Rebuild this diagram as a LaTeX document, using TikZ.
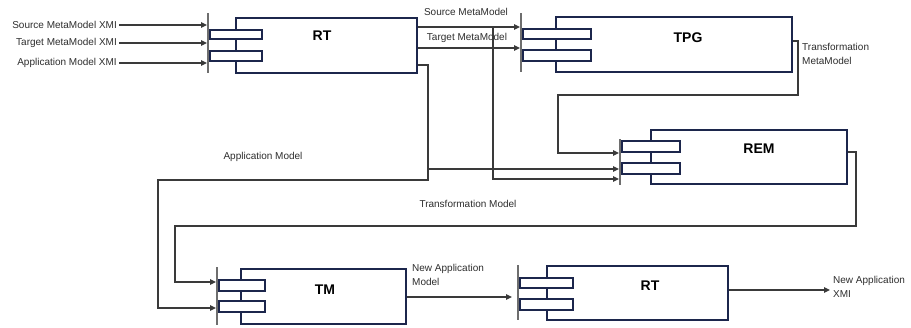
\documentclass[tikz,border=0pt]{standalone}
\usepackage{fontspec}
\setmainfont{Liberation Sans}
\usetikzlibrary{arrows.meta}
\definecolor{wire}{HTML}{3A3A3A}
\definecolor{frame}{HTML}{1C264C}
\definecolor{barcol}{HTML}{6E6E6E}
\definecolor{ink}{HTML}{2E2E2E}
\tikzset{
  wire/.style={draw=wire, line width=1.1pt},
  feed/.style={wire, -{Triangle[length=6pt,width=5.5pt]}},
  compbox/.style={draw=frame, line width=1.6pt, fill=white, inner sep=0pt, anchor=north west},
  portbox/.style={draw=frame, line width=1.5pt, fill=white, inner sep=0pt, anchor=north west},
  portbar/.style={fill=barcol, draw=none, inner sep=0pt, minimum width=1.5pt, anchor=north},
  title/.style={font=\fontsize{14}{16}\selectfont\bfseries, text=black},
  tag/.style={font=\fontsize{10}{14}\selectfont, text=ink, inner sep=0pt},
}
\begin{document}
\begin{tikzpicture}[x=1pt, y=-1pt]
\useasboundingbox[fill=white] (0,0) rectangle (911,327);

% ---- component RT (reader) ----
\node[compbox, minimum width=181pt, minimum height=55pt] (rt1) at (235,17) {};
\node[portbox, minimum width=52pt, minimum height=9pt] (rt1p1) at (209,29) {};
\node[portbox, minimum width=52pt, minimum height=10pt] (rt1p2) at (209,50) {};
\node[portbar, minimum height=60pt] (rt1bar) at (208,13) {};
\node[title] (rt1t) at (322,36) {RT};

% ---- component TPG ----
\node[compbox, minimum width=236pt, minimum height=55pt] (tpg) at (555,16) {};
\node[portbox, minimum width=68pt, minimum height=10pt] (tpgp1) at (522,28) {};
\node[portbox, minimum width=68pt, minimum height=11pt] (tpgp2) at (522,49) {};
\node[portbar, minimum height=59pt] (tpgbar) at (521,13) {};
\node[title] (tpgt) at (688,38) {TPG};

% ---- component REM ----
\node[compbox, minimum width=196pt, minimum height=54pt] (rem) at (650,129) {};
\node[portbox, minimum width=58pt, minimum height=11pt] (remp1) at (621,140) {};
\node[portbox, minimum width=58pt, minimum height=11pt] (remp2) at (621,162) {};
\node[portbar, minimum height=46pt] (rembar) at (620,139) {};
\node[title] (remt) at (759,149) {REM};

% ---- component TM ----
\node[compbox, minimum width=165pt, minimum height=55pt] (tm) at (240,268) {};
\node[portbox, minimum width=46pt, minimum height=11pt] (tmp1) at (218,279) {};
\node[portbox, minimum width=46pt, minimum height=11pt] (tmp2) at (218,300) {};
\node[portbar, minimum height=58pt] (tmbar) at (217,267) {};
\node[title] (tmt) at (325,290) {TM};

% ---- component RT (writer) ----
\node[compbox, minimum width=181pt, minimum height=54pt] (rt2) at (546,265) {};
\node[portbox, minimum width=53pt, minimum height=10pt] (rt2p1) at (519,277) {};
\node[portbox, minimum width=53pt, minimum height=11pt] (rt2p2) at (519,298) {};
\node[portbar, minimum height=55pt] (rt2bar) at (518,265) {};
\node[title] (rt2t) at (650,286) {RT};

% ---- inputs of the reader ----
\node[tag, anchor=east] (smx) at (117,25) {Source MetaModel XMI};
\node[tag, anchor=east] (tmx) at (117,43) {Target MetaModel XMI};
\node[tag, anchor=east] (amx) at (117,63) {Application Model XMI};
\draw[feed] ([xshift=2pt]smx.east) -- (rt1bar.west |- smx.east);
\draw[feed] ([xshift=2pt]tmx.east) -- (rt1bar.west |- tmx.east);
\draw[feed] ([xshift=2pt]amx.east) -- (rt1bar.west |- amx.east);

% ---- reader outputs ----
\coordinate (rt1o1) at ([yshift=-10pt]rt1.north east);
\coordinate (rt1o2) at ([yshift=-31pt]rt1.north east);
\coordinate (rt1o3) at ([yshift=-48pt]rt1.north east);
\draw[feed] (rt1o1) -- (tpgbar.west |- rt1o1);
\draw[feed] (rt1o2) -- (tpgbar.west |- rt1o2);
\node[tag] (sml) at (466,12) {Source MetaModel};
\node[tag] (tml) at (467,38) {Target MetaModel};
% source metamodel also feeds REM
\draw[feed] (493,27) -- (493,179) -- (rembar.west |- 0,179);
% application model to REM and TM
\draw[feed] (rt1o3) -- (428,65) -- (428,180) -- (158,180) -- (158,308) -- (tmbar.west |- 0,308);
\draw[feed] (428,169) -- (rembar.west |- 0,169);
\node[tag] (aml) at (263,157) {Application Model};

% ---- TPG output ----
\coordinate (tpgo) at ([yshift=-25pt]tpg.north east);
\draw[feed] (tpgo) -- (798,41) -- (798,95) -- (558,95) -- (558,153) -- (rembar.west |- 0,153);
\node[tag, anchor=west, align=left] (tmml) at (802,54) {Transformation\\MetaModel};

% ---- REM output ----
\coordinate (remo) at ([yshift=-23pt]rem.north east);
\draw[feed] (remo) -- (856,152) -- (856,226) -- (175,226) -- (175,282) -- (tmbar.west |- 0,282);
\node[tag] (trml) at (468,204) {Transformation Model};

% ---- TM output ----
\coordinate (tmo) at ([yshift=-29pt]tm.north east);
\draw[feed, shorten >=5pt] (tmo) -- (rt2bar.west |- tmo);
\node[tag, anchor=west, align=left] (naml) at (412,275) {New Application\\Model};

% ---- writer output ----
\coordinate (rt2o) at ([yshift=-25pt]rt2.north east);
\coordinate (xmiend) at (830,290);
\draw[feed] (rt2o) -- (xmiend);
\node[tag, anchor=west, align=left] (nxml) at (833,287) {New Application\\XMI};
\end{tikzpicture}
\end{document}
